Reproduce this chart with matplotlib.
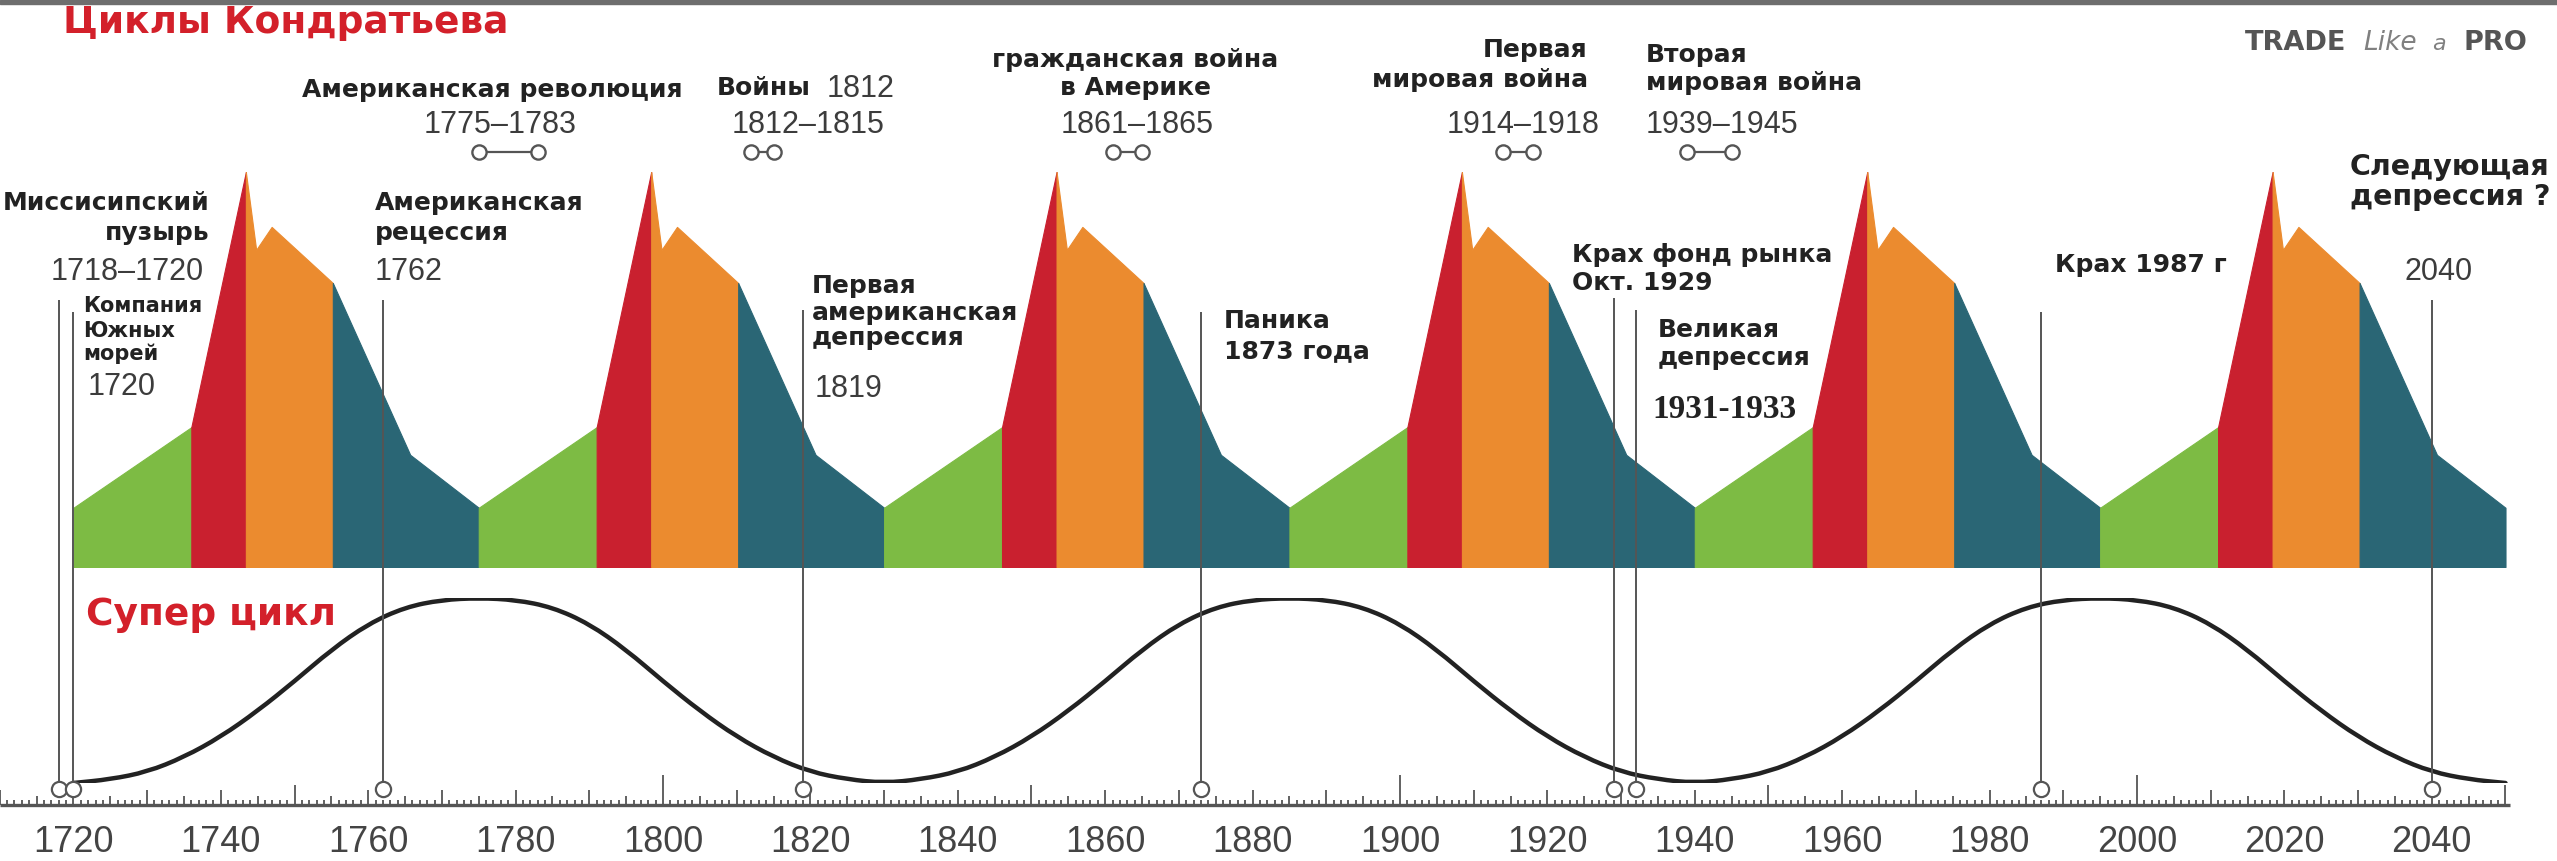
import numpy as np
import matplotlib
matplotlib.use('Agg')
import matplotlib.pyplot as plt
from matplotlib import font_manager as fm
from matplotlib.path import Path
from matplotlib.patches import PathPatch, Rectangle

# ---------------- данные ----------------
# волны Кондратьева: начало каждой волны и длина (лет)
cycle_starts = [1720, 1775, 1830, 1885, 1940, 1995]
cycle_len = 55
# профиль одной волны: годы от начала волны и уровень (индекс, пик = 100)
green_x = [0, 16]
green_y = [15, 35.4]
red_x = [16, 23.4]
red_y = [35.4, 100]
orange_x = [23.4, 24.8, 26.9, 35.2]
orange_y = [100, 80.3, 86.1, 71.9]
teal_x = [35.2, 45.7, 55]
teal_y = [71.9, 28.4, 15]

# супер цикл: уровень через каждые 5 лет, один период 110 лет (1720-1830)
super_step = 5
super_wave = [0, .02, .06, .14, .25, .39, .55, .72, .86, .95, .99,
              1, .99, .95, .86, .72, .55, .39, .25, .14, .06, .02]
super_periods = 3

# события на шкале
event_years = [1718, 1720, 1762, 1819, 1873, 1929, 1932, 1987, 2040]
# войны (начало, конец)
war_start = [1775, 1812, 1861, 1914, 1939]
war_end = [1783, 1815, 1865, 1918, 1945]

tick_years = list(range(1720, 2041, 20))
ruler_first, ruler_last = 1710, 2050

# ---------------- оформление ----------------
W, H = 2557, 861
PX_PER_YEAR = 7.37
X0 = 1720 - 73.4 / PX_PER_YEAR
X1 = X0 + W / PX_PER_YEAR

have = {f.name for f in fm.fontManager.ttflist}
NUM_FONT = 'Liberation Sans Narrow' if 'Liberation Sans Narrow' in have else 'Liberation Sans'

C_GREEN, C_RED, C_ORANGE, C_TEAL = '#7dbb44', '#c9202f', '#eb8b2f', '#2a6675'
C_LINE = '#555555'

event_tops = [300, 312, 300, 310, 312, 298, 310, 312, 300]   # верх линий, px
RULER_Y = 805
EVENT_CIRCLE_Y = 789
WAR_Y = 152

fig = plt.figure(figsize=(W / 100, H / 100), dpi=100)

ax_m = fig.add_axes([0, (H - 567) / H, 1, 395 / H])
ax_s = fig.add_axes([0, (H - 783) / H, 1, 185 / H])
ax = fig.add_axes([0, 0, 1, 1])
for a in (ax_m, ax_s, ax):
    a.set_xlim(X0, X1)
    a.axis('off')
    a.patch.set_alpha(0)
ax_m.set_ylim(0, 100)
ax_s.set_ylim(0, 1)
ax.set_ylim(H, 0)

# волны
for s in cycle_starts:
    for xs, ys, c in [(green_x, green_y, C_GREEN), (red_x, red_y, C_RED),
                      (orange_x, orange_y, C_ORANGE), (teal_x, teal_y, C_TEAL)]:
        ax_m.fill_between(s + np.array(xs), ys, 0, color=c, lw=0.8)

# супер цикл (гладкая кривая через точки)
level = super_wave * super_periods + [0]
years = cycle_starts[0] + super_step * np.arange(len(level))
pts = np.column_stack([years, level])
mids = (pts[:-1] + pts[1:]) / 2
verts = [pts[0], mids[0]]
codes = [Path.MOVETO, Path.LINETO]
for i in range(1, len(pts) - 1):
    verts += [pts[i], mids[i]]
    codes += [Path.CURVE3, Path.CURVE3]
verts.append(pts[-1])
codes.append(Path.LINETO)
ax_s.add_patch(PathPatch(Path(verts, codes), fill=False, lw=3.2, color='#222222',
                         capstyle='round', zorder=3))

# шкала
yrs = np.arange(ruler_first, ruler_last + 1)
h = np.select([yrs % 100 == 0, yrs % 50 == 0, yrs % 10 == 0, yrs % 5 == 0],
              [30, 20, 15, 9], 5)
ax.vlines(yrs, RULER_Y - h, RULER_Y, color=C_LINE, lw=1.3)
ax.hlines(RULER_Y, X0, ruler_last + 0.6, color=C_LINE, lw=2.4)
for y in tick_years:
    ax.text(y, 852, str(y), ha='center', va='baseline', family=NUM_FONT,
            size=26, color='#444444')

# линии событий
for y, top in zip(event_years, event_tops):
    ax.vlines(y, top, EVENT_CIRCLE_Y - 7, color=C_LINE, lw=1.4, zorder=4)
ax.scatter(event_years, [EVENT_CIRCLE_Y] * len(event_years), s=120, marker='o',
           facecolor='white', edgecolor=C_LINE, lw=1.6, zorder=5)

# войны
for a, b in zip(war_start, war_end):
    ax.plot([a, b], [WAR_Y, WAR_Y], color=C_LINE, lw=1.6, zorder=4)
ax.scatter(war_start + war_end, [WAR_Y] * (2 * len(war_start)), s=105, marker='o',
           facecolor='white', edgecolor=C_LINE, lw=1.7, zorder=5)

# верхняя серая полоса
fig.add_artist(Rectangle((0, 1 - 4 / H), 1, 4 / H, transform=fig.transFigure,
                         color='#6e6e6e'))


def put(x, y, s, ha='left', **kw):
    fig.text(x / W, 1 - y / H, s, ha=ha, va='baseline', **kw)


B = dict(family='DejaVu Sans', weight='bold', size=18, color='#222222')
BS = dict(B, size=15)
BL = dict(B, size=20.5)
N = dict(family=NUM_FONT, size=22, color='#3c3c3c')
SERIF = dict(family='Liberation Serif', weight='bold', size=24, color='#222222')

put(63, 33, 'Циклы Кондратьева', family='DejaVu Sans', weight='bold', size=27,
    color='#d3202a')
put(86, 625, 'Супер цикл', family='DejaVu Sans', weight='bold', size=27,
    color='#d3202a')

put(2245, 50, 'TRADE', family='DejaVu Sans', weight='bold', size=19.5, color='#555555')
put(2363, 50, 'Like', family='DejaVu Sans', style='italic', size=19, color='#808080')
put(2432, 50, 'a', family='DejaVu Sans', style='italic', size=16, color='#808080')
put(2463, 50, 'PRO', family='DejaVu Sans', weight='bold', size=19.5, color='#555555')

labels = [
    ('Американская революция', 492, 97, B, 'center'),
    ('1775–1783', 500, 133, N, 'center'),
    ('Войны', 717, 95, B, 'left'),
    ('1812', 827, 97, N, 'left'),
    ('1812–1815', 808, 133, N, 'center'),
    ('Миссисипский', 210, 210, B, 'right'),
    ('пузырь', 210, 240, B, 'right'),
    ('1718–1720', 127, 280, N, 'center'),
    ('Компания', 83, 312, BS, 'left'),
    ('Южных', 83, 337, BS, 'left'),
    ('морей', 83, 360, BS, 'left'),
    ('1720', 88, 395, N, 'left'),
    ('Американская', 375, 210, B, 'left'),
    ('рецессия', 375, 240, B, 'left'),
    ('1762', 375, 280, N, 'left'),
    ('Первая', 812, 293, B, 'left'),
    ('американская', 812, 320, B, 'left'),
    ('депрессия', 812, 345, B, 'left'),
    ('1819', 815, 397, N, 'left'),
    ('гражданская война', 1135, 67, B, 'center'),
    ('в Америке', 1135, 95, B, 'center'),
    ('1861–1865', 1137, 133, N, 'center'),
    ('Паника', 1224, 328, B, 'left'),
    ('1873 года', 1224, 358, B, 'left'),
    ('Первая', 1588, 57, B, 'right'),
    ('мировая война', 1588, 87, B, 'right'),
    ('1914–1918', 1523, 133, N, 'center'),
    ('Вторая', 1646, 62, B, 'left'),
    ('мировая война', 1646, 90, B, 'left'),
    ('1939–1945', 1646, 133, N, 'left'),
    ('Крах фонд рынка', 1572, 262, B, 'left'),
    ('Окт. 1929', 1572, 290, B, 'left'),
    ('Великая', 1658, 337, B, 'left'),
    ('депрессия', 1658, 365, B, 'left'),
    ('1931-1933', 1652, 418, SERIF, 'left'),
    ('Крах 1987 г', 2055, 272, B, 'left'),
    ('Следующая', 2350, 175, BL, 'left'),
    ('депрессия ?', 2350, 205, BL, 'left'),
    ('2040', 2405, 280, N, 'left'),
]
for s, x, y, st, ha in labels:
    put(x, y, s, ha=ha, **st)

fig.savefig('out.png', dpi=100, facecolor='white')
plt.close(fig)
